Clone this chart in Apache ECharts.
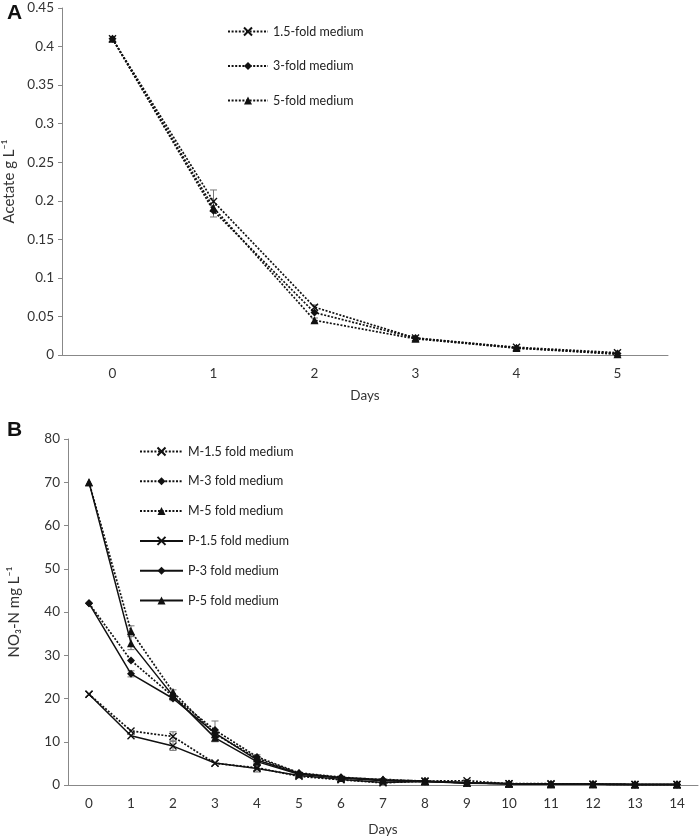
<!DOCTYPE html>
<html>
<head>
<meta charset="utf-8">
<script src="https://cdn.jsdelivr.net/npm/echarts@6/dist/echarts.min.js"></script>
<style>
  html, body { margin: 0; padding: 0; background: #fff; }
  #main { width: 699px; height: 837px; }
</style>
</head>
<body>
<div id="main"></div>
<script>
// ---- panel A: acetate ----
var daysA = ['0', '1', '2', '3', '4', '5'];
var acet15 = [0.41, 0.199, 0.062, 0.022, 0.010, 0.003];
var acet3 = [0.41, 0.187, 0.055, 0.022, 0.009, 0.002];
var acet5 = [0.41, 0.191, 0.045, 0.021, 0.009, 0.001];
// [day, low, high]
var errA = [[1, 0.186, 0.214], [1, 0.179, 0.194], [2, 0.058, 0.065], [2, 0.042, 0.048]];

// ---- panel B: NO3-N ----
var daysB = ['0', '1', '2', '3', '4', '5', '6', '7', '8', '9', '10', '11', '12', '13', '14'];
var m15 = [21, 12.5, 11.2, 5.0, 4.0, 2.0, 1.2, 0.5, 0.9, 1.0, 0.3, 0.3, 0.2, 0.1, 0.1];
var m3 = [42, 28.8, 20.5, 12.7, 6.5, 2.8, 1.8, 1.2, 0.9, 0.5, 0.3, 0.2, 0.2, 0.1, 0.1];
var m5 = [70, 35.6, 21.5, 11.8, 6.2, 2.7, 1.7, 1.3, 0.9, 0.5, 0.3, 0.2, 0.2, 0.1, 0.1];
var p15 = [21, 11.4, 9.0, 5.1, 3.8, 2.2, 1.3, 0.6, 0.8, 0.4, 0.3, 0.2, 0.2, 0.1, 0.1];
var p3 = [42, 25.7, 20.0, 12.0, 5.8, 2.6, 1.7, 1.1, 0.8, 0.5, 0.3, 0.2, 0.2, 0.1, 0.1];
var p5 = [70, 32.8, 20.6, 10.9, 5.4, 2.5, 1.6, 1.0, 0.8, 0.5, 0.3, 0.2, 0.2, 0.1, 0.1];
var errB = [[1, 34.5, 36.8], [1, 31.3, 34.3], [1, 25.0, 26.4], [2, 10.2, 12.3], [2, 8.0, 10.1],
            [2, 19.5, 22.0], [3, 10.8, 14.8], [3, 10.0, 11.8], [4, 3.0, 5.0], [4, 5.0, 7.0]];

var crossPath = 'path://M0,0L10,10M10,0L0,10';
var font = 'Lato, "Open Sans", sans-serif';

function renderErr(params, api) {
    var x = api.value(0);
    var hi = api.coord([x, api.value(2)]);
    var lo = api.coord([x, api.value(1)]);
    var w = 3.5;
    var st = { stroke: '#777', lineWidth: 1 };
    return {
        type: 'group',
        children: [
            { type: 'line', shape: { x1: hi[0], y1: hi[1], x2: lo[0], y2: lo[1] }, style: st },
            { type: 'line', shape: { x1: hi[0] - w, y1: hi[1], x2: hi[0] + w, y2: hi[1] }, style: st },
            { type: 'line', shape: { x1: lo[0] - w, y1: lo[1], x2: lo[0] + w, y2: lo[1] }, style: st }
        ]
    };
}

function lineSeries(name, data, idx, symbol, dotted, size) {
    return {
        name: name,
        type: 'line',
        xAxisIndex: idx,
        yAxisIndex: idx,
        data: data,
        symbol: symbol,
        symbolSize: size,
        showAllSymbol: true,
        z: 3,
        lineStyle: { color: '#111', width: dotted ? 1.7 : 1.5, type: dotted ? [2, 1.6] : 'solid' },
        itemStyle: { color: '#111', borderColor: '#111', borderWidth: symbol === crossPath ? 1.4 : 0 }
    };
}

var myChart = echarts.init(document.getElementById('main'));
var option = {
    animation: false,
    textStyle: { fontFamily: font },
    title: [
        { text: 'A', left: 2, top: -2, textStyle: { fontSize: 21, fontWeight: 'bold', fontFamily: 'Arial, sans-serif', color: '#111' } },
        { text: 'B', left: 2, top: 415, textStyle: { fontSize: 21, fontWeight: 'bold', fontFamily: 'Arial, sans-serif', color: '#111' } }
    ],
    grid: [
        { left: 62, right: 31, top: 8, bottom: 482, outerBoundsMode: 'none', containLabel: false },
        { left: 68, right: 1, top: 439, bottom: 52, outerBoundsMode: 'none', containLabel: false }
    ],
    legend: [
        {
            data: ['1.5-fold medium', '3-fold medium', '5-fold medium'],
            orient: 'vertical', left: 222, top: 20,
            itemWidth: 40, itemHeight: 10, itemGap: 21.5,
            textStyle: { fontSize: 12.5, color: '#222', fontFamily: font }
        },
        {
            data: ['M-1.5 fold medium', 'M-3 fold medium', 'M-5 fold medium',
                   'P-1.5 fold medium', 'P-3 fold medium', 'P-5 fold medium'],
            orient: 'vertical', left: 134, top: 440,
            itemWidth: 43, itemHeight: 10, itemGap: 16.8,
            textStyle: { fontSize: 12.5, color: '#222', fontFamily: font }
        }
    ],
    xAxis: [
        {
            gridIndex: 0, type: 'category', data: daysA,
            name: 'Days', nameLocation: 'middle', nameGap: 34,
            nameTextStyle: { fontSize: 13.5, color: '#333' },
            axisLine: { lineStyle: { color: '#888' } },
            axisTick: { show: false },
            axisLabel: { fontSize: 13.5, color: '#333', margin: 12 }
        },
        {
            gridIndex: 1, type: 'category', data: daysB,
            name: 'Days', nameLocation: 'middle', nameGap: 38,
            nameTextStyle: { fontSize: 13.5, color: '#333' },
            axisLine: { lineStyle: { color: '#888' } },
            axisTick: { show: false },
            axisLabel: { fontSize: 13.5, color: '#333', margin: 12 }
        }
    ],
    yAxis: [
        {
            gridIndex: 0, type: 'value', min: 0, max: 0.45, interval: 0.05,
            name: 'Acetate g L\u207B\u00B9', nameLocation: 'middle', nameGap: 41,
            nameTextStyle: { fontSize: 15, color: '#333' },
            axisLine: { show: true, lineStyle: { color: '#888' } },
            axisTick: { show: true, length: 4, lineStyle: { color: '#888' } },
            axisLabel: { fontSize: 13.5, color: '#333', margin: 8 },
            splitLine: { show: false }
        },
        {
            gridIndex: 1, type: 'value', min: 0, max: 80, interval: 10,
            name: 'NO\u2083-N mg L\u207B\u00B9', nameLocation: 'middle', nameGap: 46,
            nameTextStyle: { fontSize: 15, color: '#333' },
            axisLine: { show: true, lineStyle: { color: '#888' } },
            axisTick: { show: true, length: 4, lineStyle: { color: '#888' } },
            axisLabel: { fontSize: 13.5, color: '#333', margin: 8 },
            splitLine: { show: false }
        }
    ],
    series: [
        lineSeries('1.5-fold medium', acet15, 0, crossPath, true, 7),
        lineSeries('3-fold medium', acet3, 0, 'diamond', true, 8),
        lineSeries('5-fold medium', acet5, 0, 'triangle', true, 8),
        { type: 'custom', xAxisIndex: 0, yAxisIndex: 0, renderItem: renderErr, data: errA, z: 2, silent: true },
        lineSeries('M-1.5 fold medium', m15, 1, crossPath, true, 7),
        lineSeries('M-3 fold medium', m3, 1, 'diamond', true, 8),
        lineSeries('M-5 fold medium', m5, 1, 'triangle', true, 8),
        lineSeries('P-1.5 fold medium', p15, 1, crossPath, false, 7),
        lineSeries('P-3 fold medium', p3, 1, 'diamond', false, 8),
        lineSeries('P-5 fold medium', p5, 1, 'triangle', false, 8),
        { type: 'custom', xAxisIndex: 1, yAxisIndex: 1, renderItem: renderErr, data: errB, z: 2, silent: true }
    ]
};
myChart.setOption(option);
window.addEventListener("resize", function () {
    myChart.resize();
});
</script>
</body>
</html>
